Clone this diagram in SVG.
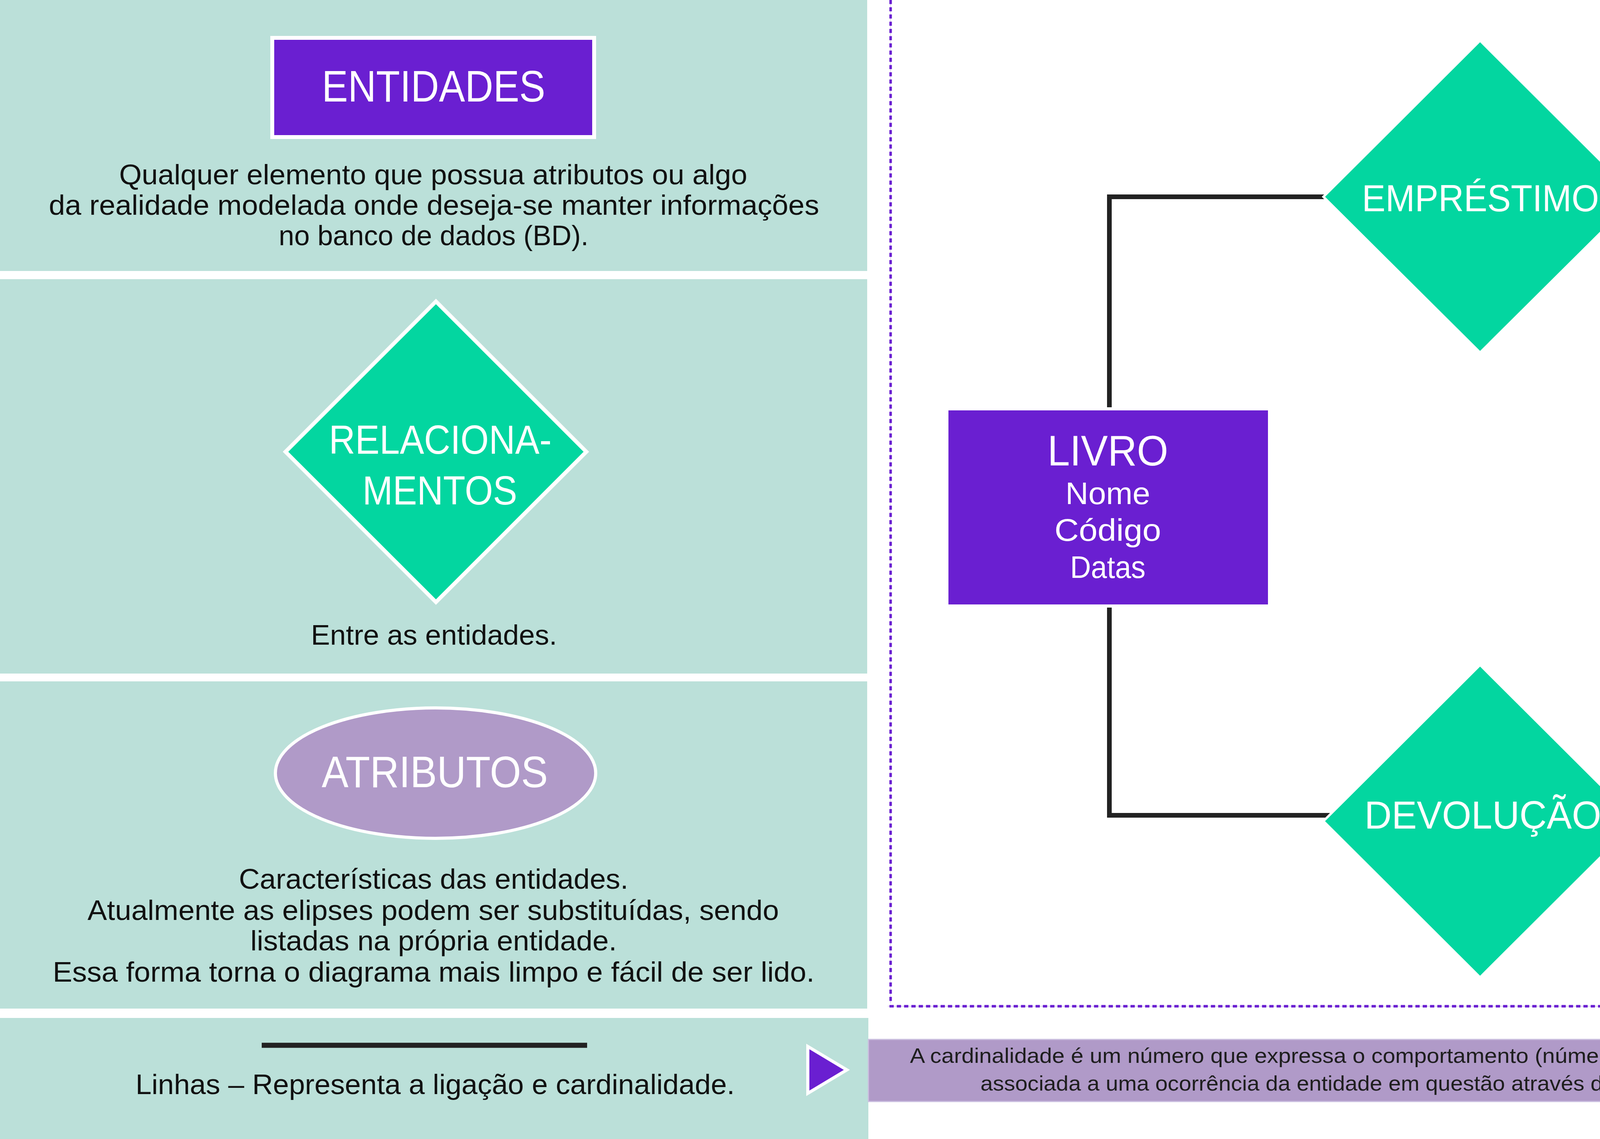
<svg xmlns="http://www.w3.org/2000/svg" width="5333" height="2917" viewBox="0 0 5333 2917">
<style>
.panel{fill:#bbe0d9}
.body{font-family:"Liberation Sans",Arial,sans-serif;font-size:72px;fill:#111;text-anchor:middle}
.head{font-family:"Liberation Sans",Arial,sans-serif;fill:#fff;text-anchor:middle}
.ent{fill:#6a1fd1}
.rel{fill:#03d6a0;stroke:#fff}
.conn{fill:none;stroke:#222;stroke-width:12;stroke-linejoin:miter}
.card{font-family:"Liberation Sans",Arial,sans-serif;font-size:54px;fill:#1e1e1e;text-anchor:middle}
</style>
<rect width="5333" height="2917" fill="#fff"/>

<g id="legend-panels">
<rect class="panel" x="0" y="0" width="2220" height="694"/>
<rect class="panel" x="0" y="715" width="2220" height="1010"/>
<rect class="panel" x="0" y="1745" width="2220" height="838"/>
<rect class="panel" x="0" y="2607" width="2223" height="310"/>
</g>

<g id="legend-entidades">
<rect class="ent" x="697" y="97" width="824" height="254" stroke="#fff" stroke-width="10"/>
<text class="head" x="1110" y="260" font-size="114" textLength="572" lengthAdjust="spacingAndGlyphs">ENTIDADES</text>
<text class="body" x="1109" y="472" textLength="1608" lengthAdjust="spacingAndGlyphs">Qualquer elemento que possua atributos ou algo</text>
<text class="body" x="1111" y="550" textLength="1972" lengthAdjust="spacingAndGlyphs">da realidade modelada onde deseja-se manter informações</text>
<text class="body" x="1110" y="628" textLength="793" lengthAdjust="spacingAndGlyphs">no banco de dados (BD).</text>
</g>

<g id="legend-relacionamentos">
<polygon class="rel" points="1116,772 1501,1157 1116,1542 731,1157" stroke-width="10"/>
<text class="head" x="1127" y="1162" font-size="103" textLength="570" lengthAdjust="spacingAndGlyphs">RELACIONA-</text>
<text class="head" x="1126" y="1292" font-size="103" textLength="396" lengthAdjust="spacingAndGlyphs">MENTOS</text>
<text class="body" x="1111" y="1651" textLength="630" lengthAdjust="spacingAndGlyphs">Entre as entidades.</text>
</g>

<g id="legend-atributos">
<ellipse cx="1115" cy="1980" rx="410" ry="167" fill="#b09ac8" stroke="#fff" stroke-width="8"/>
<text class="head" x="1113" y="2016" font-size="114" textLength="579" lengthAdjust="spacingAndGlyphs">ATRIBUTOS</text>
<text class="body" x="1110" y="2276" textLength="997" lengthAdjust="spacingAndGlyphs">Características das entidades.</text>
<text class="body" x="1109" y="2356" textLength="1770" lengthAdjust="spacingAndGlyphs">Atualmente as elipses podem ser substituídas, sendo</text>
<text class="body" x="1110" y="2434" textLength="938" lengthAdjust="spacingAndGlyphs">listadas na própria entidade.</text>
<text class="body" x="1110" y="2514" textLength="1950" lengthAdjust="spacingAndGlyphs">Essa forma torna o diagrama mais limpo e fácil de ser lido.</text>
</g>

<g id="legend-linhas">
<line x1="670" y1="2677" x2="1503" y2="2677" stroke="#222" stroke-width="13"/>
<text class="body" x="1114" y="2802" textLength="1534" lengthAdjust="spacingAndGlyphs">Linhas – Representa a ligação e cardinalidade.</text>
<polygon points="2068,2680 2068,2800 2168,2740" fill="#6a1fd1" stroke="#fff" stroke-width="8"/>
</g>

<g id="cardinalidade-note">
<rect x="2223" y="2662" width="3110" height="159" fill="#b09ac8" stroke="#cbbfe0" stroke-width="3"/>
<text class="card" x="3773" y="2722" textLength="2887" lengthAdjust="spacingAndGlyphs">A cardinalidade é um número que expressa o comportamento (número de ocorrências) de determinada entidade</text>
<text class="card" x="3775" y="2793" textLength="2530" lengthAdjust="spacingAndGlyphs">associada a uma ocorrência da entidade em questão através do relacionamento. (1.. 1, 1..n ou n..n)</text>
</g>

<g id="frame">
<line x1="2280" y1="0" x2="2280" y2="2570" stroke="#d6cbea" stroke-width="1.5"/>
<line x1="2273" y1="2577" x2="5333" y2="2577" stroke="#d6cbea" stroke-width="1.5"/>
<line x1="2280" y1="0" x2="2280" y2="2566" stroke="#6a1fd1" stroke-width="6.5" stroke-dasharray="10.5 8"/>
<line x1="2277" y1="2577" x2="5333" y2="2577" stroke="#6a1fd1" stroke-width="6.5" stroke-dasharray="11 7.7"/>
</g>

<g id="connectors">
<path class="conn" d="M3400 504 H2840 V1043"/>
<path class="conn" d="M4180 504 H4770 V1048"/>
<path class="conn" d="M2840 1556 V2088 H3405"/>
<path class="conn" d="M4770 1562 V2088 H4175"/>
</g>

<g id="emprestimo">
<polygon class="rel" points="3789,104 4190,504 3789,903 3388,504" stroke-width="6"/>
<text class="head" x="3790" y="541" font-size="97" textLength="607" lengthAdjust="spacingAndGlyphs">EMPRÉSTIMO</text>
</g>

<g id="devolucao">
<polygon class="rel" points="3789,1703 4190,2103 3789,2503 3388,2103" stroke-width="6"/>
<text class="head" x="3796" y="2122" font-size="100" textLength="606" lengthAdjust="spacingAndGlyphs">DEVOLUÇÃO</text>
</g>

<g id="livro">
<rect class="ent" x="2428" y="1051" width="818" height="497"/>
<text class="head" x="2836" y="1192" font-size="110" textLength="309" lengthAdjust="spacingAndGlyphs">LIVRO</text>
<text class="head" x="2836" y="1291" font-size="80" textLength="217" lengthAdjust="spacingAndGlyphs">Nome</text>
<text class="head" x="2836" y="1385" font-size="80" textLength="273" lengthAdjust="spacingAndGlyphs">Código</text>
<text class="head" x="2836" y="1480" font-size="80" textLength="193" lengthAdjust="spacingAndGlyphs">Datas</text>
</g>

<g id="aluno">
<rect class="ent" x="4362" y="1057" width="816" height="496"/>
<text class="head" x="4770" y="1199" font-size="110" textLength="381" lengthAdjust="spacingAndGlyphs">ALUNO</text>
<text class="head" x="4770" y="1296" font-size="80" textLength="214" lengthAdjust="spacingAndGlyphs">Nome</text>
<text class="head" x="4770" y="1390" font-size="80" textLength="126" lengthAdjust="spacingAndGlyphs">Cpf</text>
<text class="head" x="4770" y="1485" font-size="80" textLength="338" lengthAdjust="spacingAndGlyphs">Endereço</text>
</g>
</svg>
